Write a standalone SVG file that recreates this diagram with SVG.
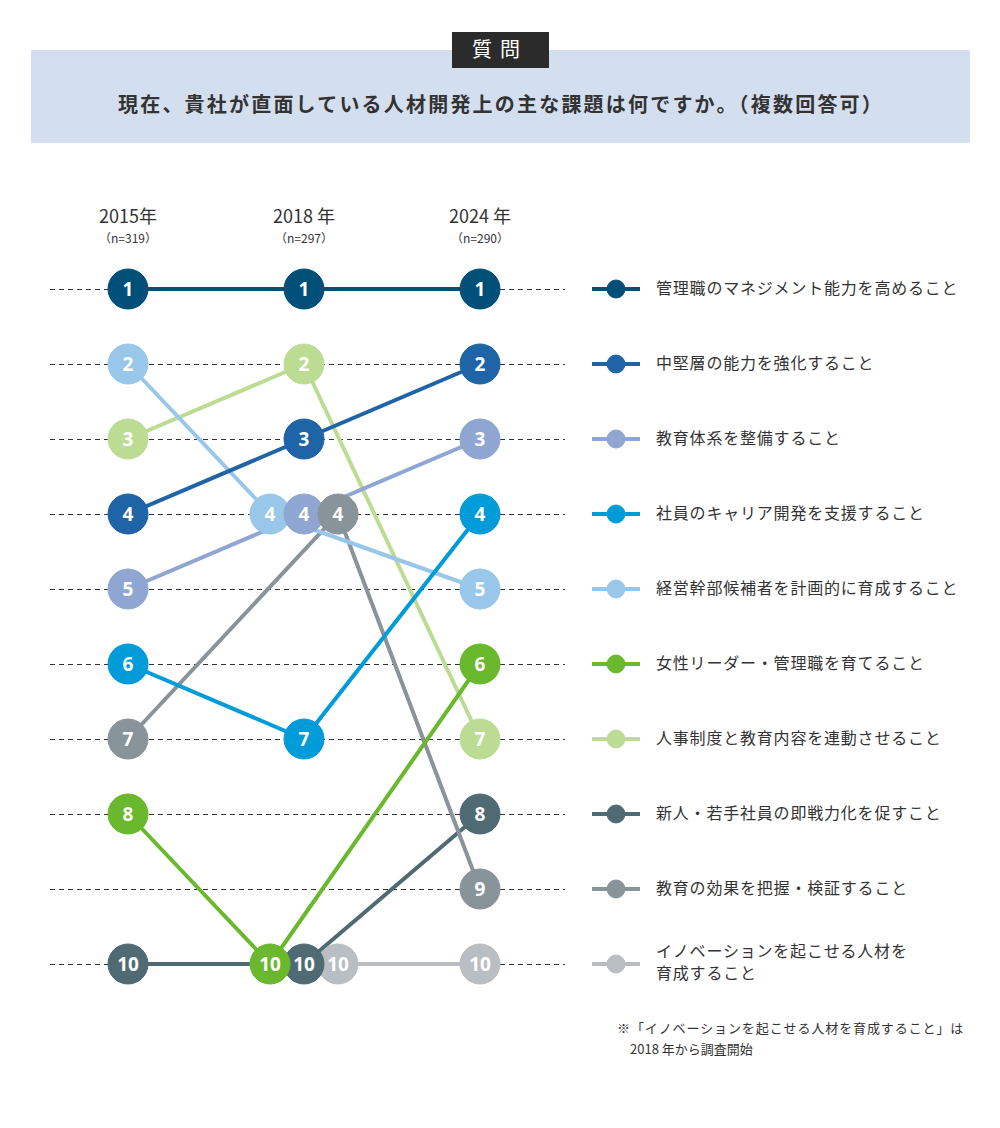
<svg xmlns="http://www.w3.org/2000/svg" width="1000" height="1128" viewBox="0 0 1000 1128">
<style>
.cjk{font-family:"Noto Sans CJK JP","Noto Sans",sans-serif;}
.grid line{stroke:#333;stroke-width:1;stroke-dasharray:5 4;}
.ln{fill:none;stroke-width:4;stroke-linejoin:round;}
.num{font-family:"Noto Sans","Open Sans",sans-serif;font-weight:bold;font-size:19px;fill:#fff;text-anchor:middle;}
.leg{font-family:"Noto Sans CJK JP","Noto Sans",sans-serif;font-size:16px;fill:#333;letter-spacing:0.8px;}
.yr{font-family:"Noto Sans CJK JP","Noto Sans",sans-serif;font-size:18px;fill:#333;text-anchor:middle;}
.n{font-family:"Noto Sans CJK JP","Noto Sans",sans-serif;font-size:12px;fill:#333;text-anchor:middle;}
.c1{stroke:#004f78;fill:#004f78}
.c2{stroke:#1e64a6;fill:#1e64a6}
.c3{stroke:#8fa6d3;fill:#8fa6d3}
.c4{stroke:#009bd9;fill:#009bd9}
.c5{stroke:#98c7ea;fill:#98c7ea}
.c6{stroke:#6ab82d;fill:#6ab82d}
.c7{stroke:#bcdc93;fill:#bcdc93}
.c8{stroke:#4f6a73;fill:#4f6a73}
.c9{stroke:#88939a;fill:#88939a}
.c10{stroke:#b9bec3;fill:#b9bec3}
circle{stroke:none}
</style>
<rect width="1000" height="1128" fill="#fff"/>
<g id="header">
<rect x="31" y="50" width="939" height="93" fill="#d3deef"/>
<rect x="452" y="32" width="97" height="36" fill="#2b2b2b"/>
<text x="500" y="57" class="cjk" font-size="20" fill="#fff" text-anchor="middle" letter-spacing="8">質問</text>
<text x="501" y="112" class="cjk" font-size="20" font-weight="bold" fill="#333" text-anchor="middle" letter-spacing="2.2">現在、貴社が直面している人材開発上の主な課題は何ですか。（複数回答可）</text>
</g>
<g id="years">
<text x="128" y="223" class="yr">2015年</text>
<text x="128" y="243" class="n">（n=319）</text>
<text x="304" y="223" class="yr">2018 年</text>
<text x="304" y="243" class="n">（n=297）</text>
<text x="480" y="223" class="yr">2024 年</text>
<text x="480" y="243" class="n">（n=290）</text>
</g>
<g class="grid">
<line x1="50" y1="289.5" x2="565" y2="289.5"/>
<line x1="50" y1="364.5" x2="565" y2="364.5"/>
<line x1="50" y1="439.5" x2="565" y2="439.5"/>
<line x1="50" y1="514.5" x2="565" y2="514.5"/>
<line x1="50" y1="589.5" x2="565" y2="589.5"/>
<line x1="50" y1="664.5" x2="565" y2="664.5"/>
<line x1="50" y1="739.5" x2="565" y2="739.5"/>
<line x1="50" y1="814.5" x2="565" y2="814.5"/>
<line x1="50" y1="889.5" x2="565" y2="889.5"/>
<line x1="50" y1="964.5" x2="565" y2="964.5"/>
</g>
<g id="connectors">
<polyline class="ln c10" points="338,964 480,964" style="fill:none"/>
<polyline class="ln c8" points="128,964 304,964 480,814" style="fill:none"/>
<polyline class="ln c9" points="128,739 338,514 480,889" style="fill:none"/>
<polyline class="ln c7" points="128,439 304,364 480,739" style="fill:none"/>
<polyline class="ln c6" points="128,814 270,964 480,664" style="fill:none"/>
<polyline class="ln c5" points="128,364 270,514 480,589" style="fill:none"/>
<polyline class="ln c4" points="128,664 304,739 480,514" style="fill:none"/>
<polyline class="ln c3" points="128,589 304,514 480,439" style="fill:none"/>
<polyline class="ln c2" points="128,514 304,439 480,364" style="fill:none"/>
<polyline class="ln c1" points="128,289 304,289 480,289" style="fill:none"/>
</g>
<g id="s1">
<circle class="c1" cx="128" cy="289" r="20"/><text class="num" x="128" y="296">1</text>
<circle class="c1" cx="304" cy="289" r="20"/><text class="num" x="304" y="296">1</text>
<circle class="c1" cx="480" cy="289" r="20"/><text class="num" x="480" y="296">1</text>
</g>
<g id="s2">
<circle class="c2" cx="128" cy="514" r="20"/><text class="num" x="128" y="521">4</text>
<circle class="c2" cx="304" cy="439" r="20"/><text class="num" x="304" y="446">3</text>
<circle class="c2" cx="480" cy="364" r="20"/><text class="num" x="480" y="371">2</text>
</g>
<g id="s4">
<circle class="c4" cx="128" cy="664" r="20"/><text class="num" x="128" y="671">6</text>
<circle class="c4" cx="304" cy="739" r="20"/><text class="num" x="304" y="746">7</text>
<circle class="c4" cx="480" cy="514" r="20"/><text class="num" x="480" y="521">4</text>
</g>
<g id="s7">
<circle class="c7" cx="128" cy="439" r="20"/><text class="num" x="128" y="446">3</text>
<circle class="c7" cx="304" cy="364" r="20"/><text class="num" x="304" y="371">2</text>
<circle class="c7" cx="480" cy="739" r="20"/><text class="num" x="480" y="746">7</text>
</g>
<g id="s5">
<circle class="c5" cx="128" cy="364" r="20"/><text class="num" x="128" y="371">2</text>
<circle class="c5" cx="270" cy="514" r="20"/><text class="num" x="270" y="521">4</text>
<circle class="c5" cx="480" cy="589" r="20"/><text class="num" x="480" y="596">5</text>
</g>
<g id="s3">
<circle class="c3" cx="128" cy="589" r="20"/><text class="num" x="128" y="596">5</text>
<circle class="c3" cx="304" cy="514" r="20"/><text class="num" x="304" y="521">4</text>
<circle class="c3" cx="480" cy="439" r="20"/><text class="num" x="480" y="446">3</text>
</g>
<g id="s9">
<circle class="c9" cx="128" cy="739" r="20"/><text class="num" x="128" y="746">7</text>
<circle class="c9" cx="338" cy="514" r="20"/><text class="num" x="338" y="521">4</text>
<circle class="c9" cx="480" cy="889" r="20"/><text class="num" x="480" y="896">9</text>
</g>
<g id="s10">
<circle class="c10" cx="338" cy="964" r="20"/><text class="num" x="338" y="971">10</text>
<circle class="c10" cx="480" cy="964" r="20"/><text class="num" x="480" y="971">10</text>
</g>
<g id="s8">
<circle class="c8" cx="128" cy="964" r="20"/><text class="num" x="128" y="971">10</text>
<circle class="c8" cx="304" cy="964" r="20"/><text class="num" x="304" y="971">10</text>
<circle class="c8" cx="480" cy="814" r="20"/><text class="num" x="480" y="821">8</text>
</g>
<g id="s6">
<circle class="c6" cx="128" cy="814" r="20"/><text class="num" x="128" y="821">8</text>
<circle class="c6" cx="270" cy="964" r="20"/><text class="num" x="270" y="971">10</text>
<circle class="c6" cx="480" cy="664" r="20"/><text class="num" x="480" y="671">6</text>
</g>
<g id="legend">
<g id="leg1"><line class="ln c1" x1="592" y1="289" x2="640" y2="289"/><circle class="c1" cx="616" cy="289" r="9"/><text class="leg" x="656" y="294">管理職のマネジメント能力を高めること</text></g>
<g id="leg2"><line class="ln c2" x1="592" y1="364" x2="640" y2="364"/><circle class="c2" cx="616" cy="364" r="9"/><text class="leg" x="656" y="369">中堅層の能力を強化すること</text></g>
<g id="leg3"><line class="ln c3" x1="592" y1="439" x2="640" y2="439"/><circle class="c3" cx="616" cy="439" r="9"/><text class="leg" x="656" y="444">教育体系を整備すること</text></g>
<g id="leg4"><line class="ln c4" x1="592" y1="514" x2="640" y2="514"/><circle class="c4" cx="616" cy="514" r="9"/><text class="leg" x="656" y="519">社員のキャリア開発を支援すること</text></g>
<g id="leg5"><line class="ln c5" x1="592" y1="589" x2="640" y2="589"/><circle class="c5" cx="616" cy="589" r="9"/><text class="leg" x="656" y="594">経営幹部候補者を計画的に育成すること</text></g>
<g id="leg6"><line class="ln c6" x1="592" y1="664" x2="640" y2="664"/><circle class="c6" cx="616" cy="664" r="9"/><text class="leg" x="656" y="669">女性リーダー・管理職を育てること</text></g>
<g id="leg7"><line class="ln c7" x1="592" y1="739" x2="640" y2="739"/><circle class="c7" cx="616" cy="739" r="9"/><text class="leg" x="656" y="744">人事制度と教育内容を連動させること</text></g>
<g id="leg8"><line class="ln c8" x1="592" y1="814" x2="640" y2="814"/><circle class="c8" cx="616" cy="814" r="9"/><text class="leg" x="656" y="819">新人・若手社員の即戦力化を促すこと</text></g>
<g id="leg9"><line class="ln c9" x1="592" y1="889" x2="640" y2="889"/><circle class="c9" cx="616" cy="889" r="9"/><text class="leg" x="656" y="894">教育の効果を把握・検証すること</text></g>
<g id="leg10"><line class="ln c10" x1="592" y1="964" x2="640" y2="964"/><circle class="c10" cx="616" cy="964" r="9"/><text class="leg" x="656" y="957">イノベーションを起こせる人材を</text><text class="leg" x="656" y="979">育成すること</text></g>
</g>
<g id="note">
<text class="cjk" x="617" y="1033" font-size="13" fill="#333" letter-spacing="0.9">※「イノベーションを起こせる人材を育成すること」は</text>
<text class="cjk" x="630" y="1054" font-size="13" fill="#333">2018 年から調査開始</text>
</g>
</svg>
